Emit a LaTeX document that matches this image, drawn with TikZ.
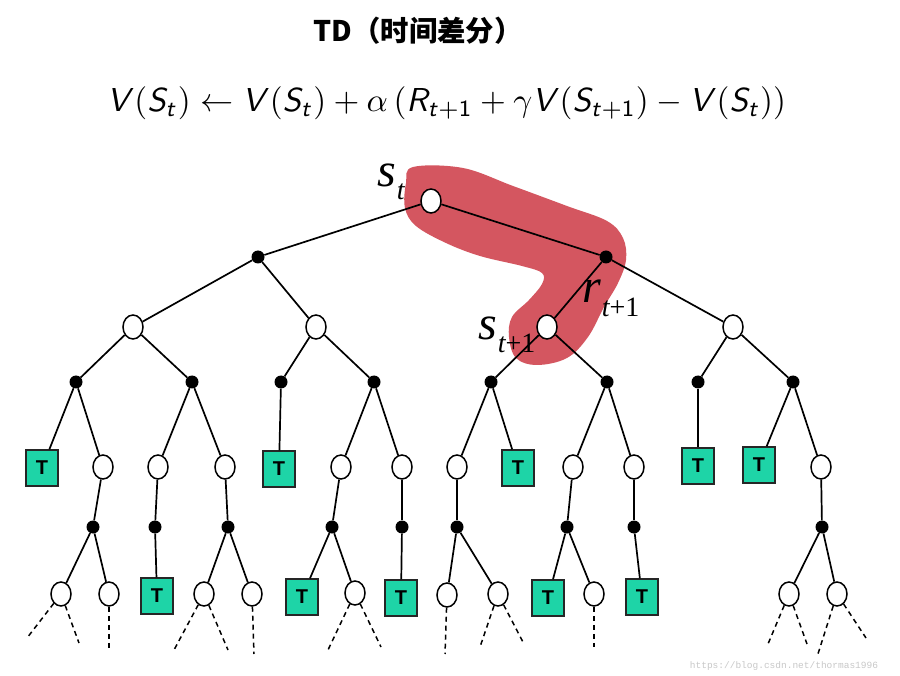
\documentclass[tikz,border=0pt]{standalone}
\usepackage{fontspec}
\usepackage{graphicx}
\usetikzlibrary{shapes.geometric}
\newfontfamily\cjk{Noto Sans CJK SC}
\newfontfamily\timesf{Liberation Serif}
\newfontfamily\monof{Liberation Mono}
\newfontfamily\sansb{Liberation Sans}
\DeclareMathAlphabet{\msi}{OT1}{cmss}{m}{sl}
\DeclareMathAlphabet{\msu}{OT1}{cmss}{m}{n}
\definecolor{tealT}{RGB}{30,212,167}
\definecolor{blobred}{RGB}{212,86,96}
\definecolor{wmgray}{RGB}{200,200,200}
\newcommand{\mylabbig}[1]{{\fontsize{48}{48}\selectfont\itshape #1}}
\newcommand{\mylabsub}[1]{{\fontsize{28}{28}\selectfont #1}}
\tikzset{
  edge/.style={line width=1.7pt, black},
  dashedge/.style={line width=1.5pt, black, dash pattern=on 5pt off 4pt},
  opn/.style={ellipse, draw=black, line width=1.5pt, fill=white, minimum width=20pt, minimum height=24pt, inner sep=0pt},
  dot/.style={circle, fill=black, minimum size=13pt, inner sep=0pt},
  term/.style={rectangle, draw=black!85, line width=1.3pt, fill=tealT, minimum width=32pt, minimum height=36pt, inner sep=0pt, font=\sansb\bfseries\fontsize{20}{20}\selectfont},
  lab/.style={font=\timesf, inner sep=0pt, anchor=base west}
}
\begin{document}
\begin{tikzpicture}[x=1pt,y=-1pt]
\useasboundingbox (0,0) rectangle (900,676);
\fill[white] (0,0) rectangle (900,676);
% title and formula
\node (title) at (418,31) {\resizebox{209pt}{!}{\cjk\bfseries TD（时间差分）}};
\node (formula) at (446.5,103) {\resizebox{679pt}{!}{$\msi{V}(\msi{S}_{\msi{t}}) \leftarrow \msi{V}(\msi{S}_{\msi{t}}) + \alpha\,(\msi{R}_{\msi{t}+\msu{1}} + \gamma \msi{V}(\msi{S}_{\msi{t}+\msu{1}}) - \msi{V}(\msi{S}_{\msi{t}}))$}};
% red highlight
\fill[blobred] plot[smooth cycle, tension=0.6] coordinates {
 (413,167) (463,168) (513,186) (567,206) (607,221) (623,238) (626,260)
 (618,283) (604,307) (588,337) (567,358) (537,365) (516,358) (509,337)
 (512,317) (529,300) (542,284) (542,273) (522,266) (480,256) (446,243)
 (416,226) (405,208) (406,183)};
% level 0-2
\node[opn] (r) at (431,201) {};
\node[dot] (a1) at (258,257) {};
\node[dot] (a2) at (606,257) {};
\node[opn] (b1) at (133,327) {};
\node[opn] (b2) at (316,327) {};
\node[opn] (b3) at (547,327) {};
\node[opn] (b4) at (733,327) {};
% level 3
\foreach \n/\x in {c1/76,c2/192,c3/281,c4/374,c5/491,c6/607,c7/698,c8/793}
  \node[dot] (\n) at (\x,382) {};
% level 4
\node[term] (d1) at (42,468) {T};
\node[opn] (d2) at (103,467) {};
\node[opn] (d3) at (158,467) {};
\node[opn] (d4) at (225,467) {};
\node[term] (d5) at (279,469) {T};
\node[opn] (d6) at (341,467) {};
\node[opn] (d7) at (402,467) {};
\node[opn] (d8) at (457,467) {};
\node[term] (d9) at (518,468) {T};
\node[opn] (d10) at (573,467) {};
\node[opn] (d11) at (634,467) {};
\node[term] (d12) at (698,466) {T};
\node[term] (d13) at (759,465) {T};
\node[opn] (d14) at (821,467) {};
% level 5
\foreach \n/\x in {e1/93,e2/155,e3/228,e4/332,e5/402,e6/457,e7/567,e8/634,e9/822}
  \node[dot] (\n) at (\x,527) {};
% level 6
\node[opn] (f1) at (61,594) {};
\node[opn] (f2) at (109,594) {};
\node[term] (f3) at (157,596) {T};
\node[opn] (f4) at (204,594) {};
\node[opn] (f5) at (252,594) {};
\node[term] (f6) at (302,597) {T};
\node[opn] (f7) at (355,593) {};
\node[term] (f8) at (401,598) {T};
\node[opn] (f9) at (447,595) {};
\node[opn] (f10) at (498,594) {};
\node[term] (f11) at (548,598) {T};
\node[opn] (f12) at (594,594) {};
\node[term] (f13) at (642,597) {T};
\node[opn] (f14) at (789,594) {};
\node[opn] (f15) at (837,594) {};
% edges
\foreach \p/\c in {r/a1,r/a2,a1/b1,a1/b2,a2/b3,a2/b4,
  b1/c1,b1/c2,b2/c3,b2/c4,b3/c5,b3/c6,b4/c7,b4/c8,
  c1/d1,c1/d2,c2/d3,c2/d4,c3/d5,c4/d6,c4/d7,c5/d8,c5/d9,c6/d10,c6/d11,c7/d12,c8/d13,c8/d14,
  d2/e1,d3/e2,d4/e3,d6/e4,d7/e5,d8/e6,d10/e7,d11/e8,d14/e9,
  e1/f1,e1/f2,e2/f3,e3/f4,e3/f5,e4/f6,e4/f7,e5/f8,e6/f9,e6/f10,e7/f11,e7/f12,e8/f13,e9/f14,e9/f15}
  \draw[edge] (\p) -- (\c);
% dashed continuations
\coordinate (g1) at (27,638);  \coordinate (g2) at (79,643);
\coordinate (g3) at (109,648);
\coordinate (g4) at (174,650); \coordinate (g5) at (228,650);
\coordinate (g6) at (254,654);
\coordinate (g7) at (328,650); \coordinate (g8) at (381,647);
\coordinate (g9) at (445,654);
\coordinate (g10) at (480,647); \coordinate (g11) at (524,644);
\coordinate (g12) at (594,647);
\coordinate (g13) at (768,644); \coordinate (g14) at (807,644);
\coordinate (g15) at (817,657); \coordinate (g16) at (866,638);
\foreach \p/\c in {f1/g1,f1/g2,f2/g3,f4/g4,f4/g5,f5/g6,f7/g7,f7/g8,f9/g9,f10/g10,f10/g11,f12/g12,f14/g13,f14/g14,f15/g15,f15/g16}
  \draw[dashedge] (\p) -- (\c);
% labels
\node[lab] (ls) at (377,187) {\mylabbig{s}\kern1pt\raisebox{-13pt}{\mylabsub{\itshape t}}};
\node[lab] (lr) at (582,303) {\mylabbig{r}\kern1pt\raisebox{-14pt}{\mylabsub{\itshape t\upshape +1}}};
\node[lab] (ls2) at (478,340) {\mylabbig{s}\kern1pt\raisebox{-13pt}{\mylabsub{\itshape t\upshape +1}}};
% watermark
\node[font=\monof\fontsize{9.5}{9.5}\selectfont, text=wmgray, inner sep=0pt] (wm) at (784,666) {https://blog.csdn.net/thormas1996};
\end{tikzpicture}
\end{document}
